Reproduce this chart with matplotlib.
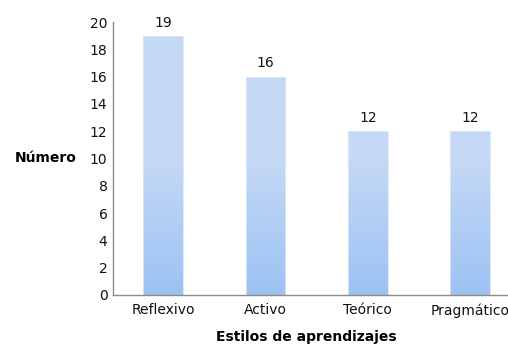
import numpy as np
import matplotlib.pyplot as plt
from matplotlib.colors import LinearSegmentedColormap

categories = ["Reflexivo", "Activo", "Teórico", "Pragmático"]
values = [19, 16, 12, 12]

TOP = "#c5d9f6"
BOTTOM = "#9cc2f3"
SPINE = "#8c8c8c"

fig = plt.figure(figsize=(5.08, 3.45), dpi=100)
ax = fig.add_axes([113 / 508, 50 / 345, 1 - 113 / 508, 273 / 345])

x = np.arange(len(categories))
bars = ax.bar(x, values, width=0.39, color="none", edgecolor="#dbe7f8", lw=0.6, zorder=2)

ax.set_xlim(-0.49, 3.37)
ax.set_ylim(0, 20)

# vertical gradient, light in the upper half, darker towards the baseline
cmap = LinearSegmentedColormap.from_list("bars", [(0, BOTTOM), (0.5, TOP), (1, TOP)])
grad = np.linspace(0, 1, 256).reshape(-1, 1)
for b, v in zip(bars, values):
    im = ax.imshow(grad, cmap=cmap, aspect="auto", origin="lower",
                   extent=(b.get_x(), b.get_x() + b.get_width(), 0, 20), zorder=1)
    im.set_clip_path(b)
    ax.text(b.get_x() + b.get_width() / 2, v + 0.45, str(v), ha="center", va="bottom",
            fontsize=10, color="#111111")

ax.set_xticks(x)
ax.set_xticklabels(categories)
ax.set_yticks(range(0, 21, 2))
ax.tick_params(axis="both", length=0, labelsize=10, colors="#111111")
ax.tick_params(axis="x", pad=6)
ax.tick_params(axis="y", pad=4)

for s in ("top", "right"):
    ax.spines[s].set_visible(False)
for s in ("left", "bottom"):
    ax.spines[s].set_color(SPINE)
    ax.spines[s].set_linewidth(1.0)

ax.set_ylabel("Número", fontsize=10, fontweight="bold", rotation=0, labelpad=0)
ax.yaxis.set_label_coords((46 - 113) / 395, 0.5)
ax.yaxis.label.set_va("center")
ax.set_xlabel("Estilos de aprendizajes", fontsize=10, fontweight="bold")
ax.xaxis.set_label_coords((306 - 113) / 395, -(337 - 295) / 273)
ax.xaxis.label.set_va("center")

fig.savefig("out.png", dpi=100)
